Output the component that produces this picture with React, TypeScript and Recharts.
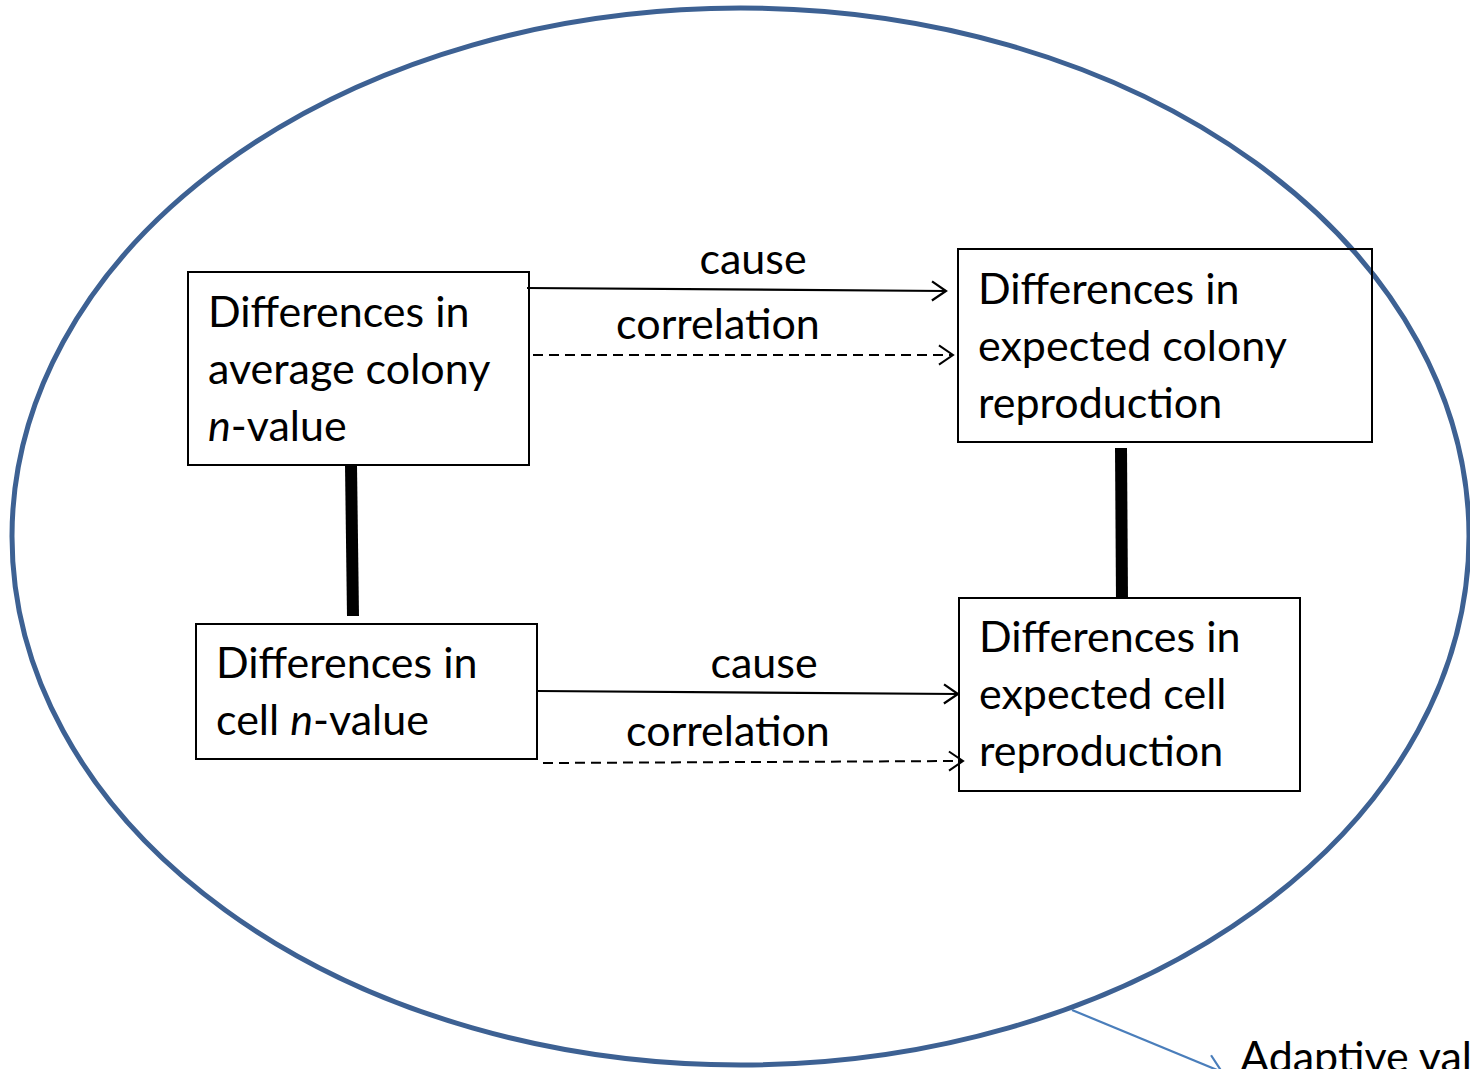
import { ComposedChart, XAxis, YAxis, Scatter, ReferenceArea, ReferenceLine } from 'recharts'

// page space: x 0..1470 left to right, y 0..1069 top to bottom
const W = 1470
const H = 1069

const boundary = { x1: 12, x2: 1469, y1: 8, y2: 1065 }

const boxes = [
  { id: 'avgColony', x1: 188, x2: 529, y1: 272, y2: 465 },
  { id: 'colonyRepro', x1: 958, x2: 1372, y1: 249, y2: 442 },
  { id: 'cellN', x1: 196, x2: 537, y1: 624, y2: 759 },
  { id: 'cellRepro', x1: 959, x2: 1300, y1: 598, y2: 791 },
]

const boxText = [
  { x: 208, y: 327, lines: ['Differences in', 'average colony', '*n*-value'] },
  { x: 978, y: 304, lines: ['Differences in', 'expected colony', 'reproduction'] },
  { x: 216, y: 678, lines: ['Differences in', 'cell *n*-value'] },
  { x: 979, y: 652, lines: ['Differences in', 'expected cell', 'reproduction'] },
]

const causeArrows = [
  { x1: 527, y1: 288, x2: 946, y2: 291 },
  { x1: 538, y1: 691, x2: 958, y2: 694 },
]

const corrArrows = [
  { x1: 533, y1: 355, x2: 953, y2: 355 },
  { x1: 543, y1: 763, x2: 963, y2: 761 },
]

const arrowLabels = [
  { x: 753, y: 274, lines: ['cause'] },
  { x: 718, y: 339, lines: ['correlation'] },
  { x: 764, y: 678, lines: ['cause'] },
  { x: 728, y: 746, lines: ['correlation'] },
]

const links = [
  { x1: 351, y1: 465, x2: 353, y2: 616 },
  { x1: 1121, y1: 448, x2: 1122, y2: 599 },
]

const pointer = { x1: 1072, y1: 1010, x2: 1222, y2: 1072 }
const pointerText = [{ x: 1240, y: 1072, lines: ['Adaptive value'] }]

const FONT = 'Lato, "Open Sans", sans-serif'
const FS = 43
const LINE = 57
const BLUE = '#3d6193'

function renderLine(line: string, k: number) {
  return line.split('*').map((part, i) => (
    <tspan key={k + '-' + i} fontStyle={i % 2 ? 'italic' : 'normal'}>{part}</tspan>
  ))
}

const textShape = (anchor: 'start' | 'middle') => (p: any) => {
  const lines: string[] = p.payload.lines
  return (
    <text fontFamily={FONT} fontSize={FS} fill="#000" textAnchor={anchor}>
      {lines.map((l, i) => (
        <tspan key={i} x={p.cx} y={p.cy + i * LINE}>{renderLine(l, i)}</tspan>
      ))}
    </text>
  )
}

const arrowShape = (color: string, width: number, dash?: string, head = 17) => (p: any) => {
  const { x1, y1, x2, y2 } = p
  const a = Math.atan2(y2 - y1, x2 - x1)
  const s = 0.6
  const hx1 = x2 - head * Math.cos(a - s)
  const hy1 = y2 - head * Math.sin(a - s)
  const hx2 = x2 - head * Math.cos(a + s)
  const hy2 = y2 - head * Math.sin(a + s)
  return (
    <g>
      <line x1={x1} y1={y1} x2={x2} y2={y2} stroke={color} strokeWidth={width} strokeDasharray={dash} />
      <polyline points={`${hx1},${hy1} ${x2},${y2} ${hx2},${hy2}`} fill="none" stroke={color} strokeWidth={width} />
    </g>
  )
}

const ellipseShape = (p: any) => (
  <ellipse cx={p.x + p.width / 2} cy={p.y + p.height / 2} rx={p.width / 2} ry={p.height / 2}
    fill="none" stroke={BLUE} strokeWidth={5} />
)

export default function App() {
  return (
    <div style={{ position: 'absolute', left: 0, top: 0, background: '#fff' }}>
      <ComposedChart width={W} height={H} margin={{ top: 0, right: 0, bottom: 0, left: 0 }}>
        <XAxis type="number" dataKey="x" domain={[0, W]} hide allowDataOverflow />
        <YAxis type="number" dataKey="y" domain={[0, H]} reversed hide allowDataOverflow />
        <ReferenceArea {...boundary} ifOverflow="visible" shape={ellipseShape} />
        {boxes.map(b => (
          <ReferenceArea key={b.id} x1={b.x1} x2={b.x2} y1={b.y1} y2={b.y2}
            fill="none" fillOpacity={0} stroke="#000" strokeWidth={2} strokeOpacity={1} ifOverflow="visible" />
        ))}
        {links.map((l, i) => (
          <ReferenceLine key={'l' + i} segment={[{ x: l.x1, y: l.y1 }, { x: l.x2, y: l.y2 }]}
            stroke="#000" strokeWidth={12} ifOverflow="visible" />
        ))}
        {causeArrows.map((a, i) => (
          <ReferenceLine key={'c' + i} segment={[{ x: a.x1, y: a.y1 }, { x: a.x2, y: a.y2 }]}
            ifOverflow="visible" shape={arrowShape('#000', 2.2)} />
        ))}
        {corrArrows.map((a, i) => (
          <ReferenceLine key={'r' + i} segment={[{ x: a.x1, y: a.y1 }, { x: a.x2, y: a.y2 }]}
            ifOverflow="visible" shape={arrowShape('#000', 2, '10 6')} />
        ))}
        <ReferenceLine segment={[{ x: pointer.x1, y: pointer.y1 }, { x: pointer.x2, y: pointer.y2 }]}
          ifOverflow="visible" shape={arrowShape('#4a7ebb', 2.2, undefined, 20)} />
        <Scatter data={boxText} isAnimationActive={false} shape={textShape('start')} />
        <Scatter data={arrowLabels} isAnimationActive={false} shape={textShape('middle')} />
        <Scatter data={pointerText} isAnimationActive={false} shape={textShape('start')} />
      </ComposedChart>
    </div>
  )
}
